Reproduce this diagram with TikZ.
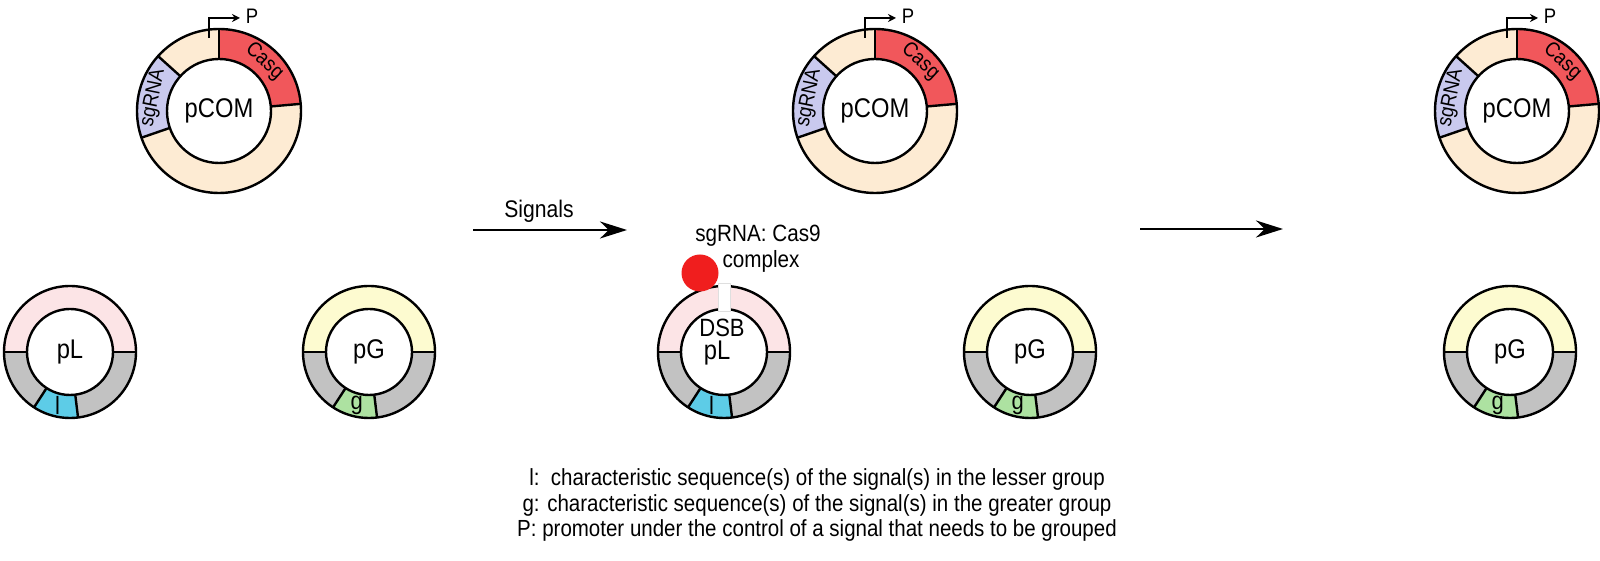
\documentclass[tikz,border=0pt]{standalone}
\usepackage{fontspec}
\setmainfont[FakeStretch=0.88]{Liberation Sans}
\usetikzlibrary{arrows.meta}

\definecolor{ringpeach}{HTML}{FDEBD3}
\definecolor{casred}{HTML}{F1575B}
\definecolor{sglav}{HTML}{C9C9EE}
\definecolor{lpink}{HTML}{FCE4E6}
\definecolor{ringgray}{HTML}{C2C2C2}
\definecolor{lcyan}{HTML}{5DCCE7}
\definecolor{gyellow}{HTML}{FDFBD0}
\definecolor{ggreen}{HTML}{ADE2A1}
\definecolor{dotred}{HTML}{F01E1E}

% one sector of a ring: start angle, end angle, outer r, inner r, colour
\newcommand{\annseg}[5]{\fill[#5] (#1:#3) arc[start angle=#1, end angle=#2, radius=#3] -- (#2:#4) arc[start angle=#2, end angle=#1, radius=#4] -- cycle;}

% pCOM plasmid: name, x, y
\newcommand{\pcomplasmid}[3]{%
\begin{scope}[shift={(#2,#3)}]
	\fill[ringpeach] (0,0) circle (82);
	\annseg{5}{90}{82}{52}{casred}
	\annseg{138}{199}{82}{52}{sglav}
	\draw[ring] (0,0) circle (82);
	\draw[ring, fill=white] (0,0) circle (52);
	\foreach \a in {5,90,138,199} \draw[ring] (\a:52) -- (\a:82);
	\node[seglbl, rotate=-42.5] at (47.5:67) {Casg};
	\node[seglbl, rotate=78.5] at (168.5:67) {sgRNA};
	\node[namelbl] (#1) at (0,0) {pCOM};
	\draw[prom] (-10,73) -- (-10,93) -- (21,93);
	\node[promlbl] (#1P) at (33,95) {P};
\end{scope}}

% pL / pG plasmid: name, x, y, top colour, mark colour, label, mark
\newcommand{\smallplasmid}[7]{%
\begin{scope}[shift={(#2,#3)}]
	\fill[ringgray] (0,0) circle (66);
	\annseg{0}{180}{66}{43}{#4}
	\annseg{-123}{-83}{66}{43}{#5}
	\draw[ring] (0,0) circle (66);
	\draw[ring, fill=white] (0,0) circle (43);
	\foreach \a in {0,180,-123,-83} \draw[ring] (\a:43) -- (\a:66);
	\node[marklbl] at (-103:55) {#7};
	\node[namelbl, font=\fontsize{27}{30}\selectfont] (#1) at (0,0) {#6};
\end{scope}}

\begin{document}
\begin{tikzpicture}[x=1pt, y=1pt,
		ring/.style={line width=2.4pt},
		seglbl/.style={font=\fontsize{21}{24}\selectfont, inner sep=0pt},
		namelbl/.style={font=\fontsize{27}{30}\selectfont, inner sep=0pt},
		marklbl/.style={font=\fontsize{25}{28}\selectfont, inner sep=0pt},
		promlbl/.style={font=\fontsize{21}{24}\selectfont, inner sep=0pt},
		txt/.style={font=\fontsize{23.5}{26}\selectfont, inner sep=0pt},
		prom/.style={line width=2pt, -{Stealth[length=8pt, width=8pt]}},
		flow/.style={line width=2.6pt, -{Stealth[length=27pt, width=17pt]}}]
	\useasboundingbox (0,0) rectangle (1600,561);

	% plasmids before signals
	\pcomplasmid{pcomA}{219}{450}
	\smallplasmid{plA}{70}{209}{lpink}{lcyan}{pL}{l}
	\smallplasmid{pgA}{369}{209}{gyellow}{ggreen}{pG}{g}

	% signals arrow
	\coordinate (sigA) at (473,331);
	\coordinate (sigB) at (627,331);
	\draw[flow] (sigA) -- (sigB);
	\node[font=\fontsize{24}{26}\selectfont, inner sep=0pt] (signals) at (539,350) {Signals};

	% cutting of pL
	\pcomplasmid{pcomB}{875}{450}
	\smallplasmid{plB}{724}{209}{lpink}{lcyan}{}{l}
	\draw[draw=gray!25, fill=white] (718,250) rectangle (730,278);
	\node[namelbl, font=\fontsize{25}{28}\selectfont] (dsb) at (722,233) {DSB};
	\node[namelbl] (plB) at (717,208) {pL};
	\node[circle, fill=dotred, minimum size=37pt, inner sep=0pt] (cas) at (700,288) {};
	\node[txt] (cplxA) at (758,325) {sgRNA: Cas9};
	\node[txt] (cplxB) at (761,300) {complex};
	\smallplasmid{pgB}{1030}{209}{gyellow}{ggreen}{pG}{g}

	% second arrow
	\coordinate (stepA) at (1140,332);
	\coordinate (stepB) at (1283,332);
	\draw[flow] (stepA) -- (stepB);

	% what is left
	\pcomplasmid{pcomC}{1517}{450}
	\smallplasmid{pgC}{1510}{209}{gyellow}{ggreen}{pG}{g}

	% legend
	\node[font=\fontsize{23.3}{25.5}\selectfont, align=center, inner sep=0pt] (legend) at (817,56)
		{l:\ \ characteristic sequence(s) of the signal(s) in the lesser group\\
		 g: characteristic sequence(s) of the signal(s) in the greater group\\
		 P: promoter under the control of a signal that needs to be grouped};
\end{tikzpicture}
\end{document}
